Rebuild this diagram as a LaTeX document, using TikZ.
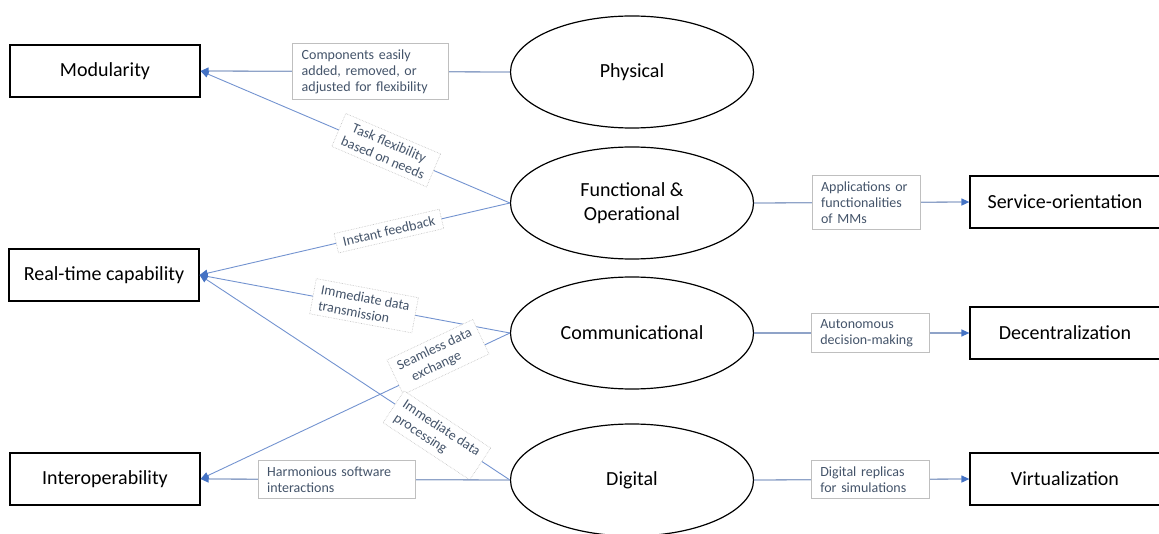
\documentclass[tikz,border=0pt]{standalone}
\usepackage{fontspec}
\setmainfont{Carlito}
\usetikzlibrary{shapes.geometric,arrows.meta}
\definecolor{lbl}{HTML}{44546A}
\definecolor{hline}{HTML}{8FA3C8}
\definecolor{dline}{HTML}{7393D0}
\definecolor{tipc}{HTML}{4472C4}
\definecolor{lborder}{HTML}{BFBFBF}
\begin{document}
\begin{tikzpicture}[x=1pt,y=-1pt,
 box/.style={draw,line width=1.2pt,minimum width=190pt,minimum height=52pt,font=\fontsize{20}{23}\selectfont},
 ell/.style={ellipse,draw,line width=1.2pt,minimum width=243pt,minimum height=112pt,inner sep=0pt,align=center,font=\fontsize{20}{24}\selectfont},
 hconn/.style={draw=hline,line width=1.3pt,-{Triangle[length=8pt,width=7pt,color=tipc]}},
 dconn/.style={draw=dline,line width=0.9pt,-{Triangle[length=8pt,width=7pt,color=tipc]}},
 hlab/.style={draw=lborder,line width=0.8pt,fill=white,text=lbl,align=left,text width=#1,inner xsep=9pt,inner ysep=6pt,font=\fontsize{14}{16}\selectfont},
 slab/.style={draw=lborder,densely dotted,line width=0.6pt,fill=white,text=lbl,inner xsep=7pt,inner ysep=5pt,sloped,font=\fontsize{14}{16}\selectfont}]
\useasboundingbox (0,0) rectangle (1159,534);
% boxes
\node[box] (mod) at (105,71) {Modularity};
\node[box] (rt) at (104,275) {Real-time capability};
\node[box] (iop) at (105,479) {Interoperability};
\node[box] (so) at (1065,202) {Service-orientation};
\node[box] (dec) at (1065,333) {Decentralization};
\node[box] (vir) at (1065,479) {Virtualization};
% ellipses
\node[ell] (phy) at (632,72) {Physical};
\node[ell] (fun) at (632,203) {Functional \&\\Operational};
\node[ell] (com) at (632,333) {Communicational};
\node[ell] (dig) at (632,480) {Digital};
% connectors
\draw[hconn] (phy.west) -- node[hlab=138pt,pos=0.45] {Components easily\\added, removed, or\\adjusted for flexibility} (mod.east);
\draw[dconn] (fun.west) -- node[slab,pos=0.40,align=center] {Task flexibility\\based on needs} (mod.east);
\draw[dconn] (fun.west) -- node[slab,pos=0.39] {Instant feedback} (rt.east);
\draw[dconn] (com.west) -- node[slab,pos=0.47,align=left] {Immediate data\\transmission} (rt.east);
\draw[dconn] (com.west) -- node[slab,pos=0.22,yshift=9pt,align=left] {Seamless data\\\hspace{0.6em}exchange} (iop.east);
\draw[dconn] (dig.west) -- node[slab,pos=0.23,yshift=-3pt,align=left] {Immediate data\\processing} (rt.east);
\draw[hconn] (dig.west) -- node[hlab=139pt,pos=0.56] {Harmonious software\\interactions} (iop.east);
\draw[hconn] (fun.east) -- node[hlab=90pt,pos=0.52] {Applications or\\functionalities\\of MMs} (so.west);
\draw[hconn] (com.east) -- node[hlab=100pt,pos=0.54] {Autonomous\\decision-making} (dec.west);
\draw[hconn] (dig.east) -- node[hlab=100pt,pos=0.54] {Digital replicas\\for simulations} (vir.west);
\end{tikzpicture}
\end{document}
